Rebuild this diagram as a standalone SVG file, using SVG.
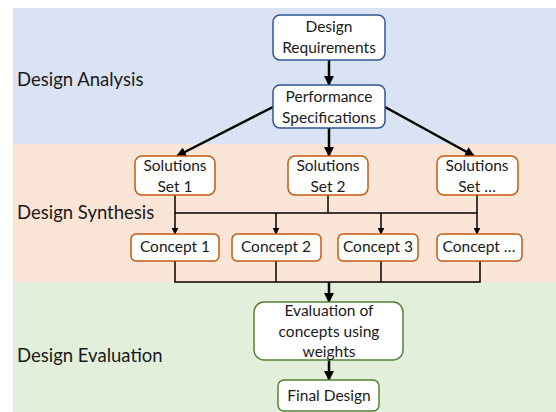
<svg xmlns="http://www.w3.org/2000/svg" width="556" height="412" viewBox="0 0 556 412">
  <style>
    .lbl { font-family: Lato, "Liberation Sans", Arial, sans-serif; font-size: 18.5px; fill: #1a1a1a; }
    .txt { font-family: Lato, "Liberation Sans", Arial, sans-serif; font-size: 15.5px; fill: #1a1a1a; text-anchor: middle; }
    .blue { fill: #ffffff; stroke: #2f5597; stroke-width: 1.5; }
    .orange { fill: #ffffff; stroke: #c55a11; stroke-width: 1.5; }
    .green { fill: #ffffff; stroke: #548235; stroke-width: 1.5; }
    .thick { fill: none; stroke: #000; stroke-width: 2.5; }
    .thin { fill: none; stroke: #000; stroke-width: 1.5; }
  </style>
  <defs>
    <marker id="head" viewBox="0 0 10 10" refX="9" refY="5" markerWidth="10" markerHeight="10" markerUnits="userSpaceOnUse" orient="auto">
      <path d="M0,0 L10,5 L0,10 z" fill="#000"/>
    </marker>
    <marker id="headSmall" viewBox="0 0 10 10" refX="9" refY="5" markerWidth="7" markerHeight="7" markerUnits="userSpaceOnUse" orient="auto">
      <path d="M0,0 L10,5 L0,10 z" fill="#000"/>
    </marker>
  </defs>

  <!-- stage bands -->
  <g id="bands">
    <rect x="13" y="8" width="543" height="136" fill="#dae3f3"/>
    <rect x="13" y="144" width="543" height="138" fill="#fbe5d6"/>
    <rect x="13" y="282" width="543" height="130" fill="#e2efda"/>
    <text class="lbl" x="17" y="86">Design Analysis</text>
    <text class="lbl" x="17" y="219">Design Synthesis</text>
    <text class="lbl" x="17" y="362">Design Evaluation</text>
  </g>

  <!-- connectors -->
  <g id="connectors">
    <line class="thick" x1="329" y1="60" x2="329" y2="85" marker-end="url(#head)"/>
    <line class="thick" x1="273" y1="107" x2="177" y2="156" marker-end="url(#head)"/>
    <line class="thick" x1="329" y1="128" x2="329" y2="156" marker-end="url(#head)"/>
    <line class="thick" x1="385" y1="107" x2="474" y2="156" marker-end="url(#head)"/>
    <!-- solution sets to concepts -->
    <line class="thin" x1="175" y1="195" x2="175" y2="213"/>
    <line class="thin" x1="328" y1="195" x2="328" y2="213"/>
    <line class="thin" x1="477" y1="195" x2="477" y2="213"/>
    <line class="thin" x1="175" y1="213" x2="477" y2="213"/>
    <line class="thin" x1="175" y1="213" x2="175" y2="234" marker-end="url(#headSmall)"/>
    <line class="thin" x1="276" y1="213" x2="276" y2="234" marker-end="url(#headSmall)"/>
    <line class="thin" x1="381" y1="213" x2="381" y2="234" marker-end="url(#headSmall)"/>
    <line class="thin" x1="477" y1="213" x2="477" y2="234" marker-end="url(#headSmall)"/>
    <!-- concepts merge -->
    <polyline class="thin" points="175,261 175,282 480,282 480,261"/>
    <line class="thin" x1="276" y1="261" x2="276" y2="282"/>
    <line class="thin" x1="381" y1="261" x2="381" y2="282"/>
    <line class="thick" x1="329" y1="282" x2="329" y2="302" marker-end="url(#head)"/>
    <line class="thick" x1="329" y1="360" x2="329" y2="380" marker-end="url(#head)"/>
  </g>

  <g id="design-requirements">
    <rect class="blue" x="273" y="15" width="112" height="45" rx="7"/>
    <text class="txt" x="329" y="32">Design</text>
    <text class="txt" x="329" y="53">Requirements</text>
  </g>
  <g id="performance-specifications">
    <rect class="blue" x="273" y="85" width="112" height="43" rx="7"/>
    <text class="txt" x="329" y="102">Performance</text>
    <text class="txt" x="329" y="123">Specifications</text>
  </g>

  <g id="solutions-set-1">
    <rect class="orange" x="135" y="156" width="80" height="39" rx="7"/>
    <text class="txt" x="175" y="171">Solutions</text>
    <text class="txt" x="175" y="192">Set 1</text>
  </g>
  <g id="solutions-set-2">
    <rect class="orange" x="288" y="156" width="80" height="39" rx="7"/>
    <text class="txt" x="328" y="171">Solutions</text>
    <text class="txt" x="328" y="192">Set 2</text>
  </g>
  <g id="solutions-set-n">
    <rect class="orange" x="437" y="156" width="81" height="39" rx="7"/>
    <text class="txt" x="477" y="171">Solutions</text>
    <text class="txt" x="477" y="192">Set …</text>
  </g>

  <g id="concept-1">
    <rect class="orange" x="131" y="234" width="88" height="27" rx="5"/>
    <text class="txt" x="175" y="252">Concept 1</text>
  </g>
  <g id="concept-2">
    <rect class="orange" x="232" y="234" width="89" height="27" rx="5"/>
    <text class="txt" x="276" y="252">Concept 2</text>
  </g>
  <g id="concept-3">
    <rect class="orange" x="338" y="234" width="80" height="27" rx="5"/>
    <text class="txt" x="378" y="252">Concept 3</text>
  </g>
  <g id="concept-n">
    <rect class="orange" x="437" y="234" width="85" height="27" rx="5"/>
    <text class="txt" x="479" y="252">Concept …</text>
  </g>

  <g id="evaluation">
    <rect class="green" x="254" y="302" width="149" height="58" rx="10"/>
    <text class="txt" x="329" y="316">Evaluation of</text>
    <text class="txt" x="329" y="337">concepts using</text>
    <text class="txt" x="329" y="357">weights</text>
  </g>
  <g id="final-design">
    <rect class="green" x="278" y="380" width="101" height="31" rx="6"/>
    <text class="txt" x="329" y="401">Final Design</text>
  </g>
</svg>
